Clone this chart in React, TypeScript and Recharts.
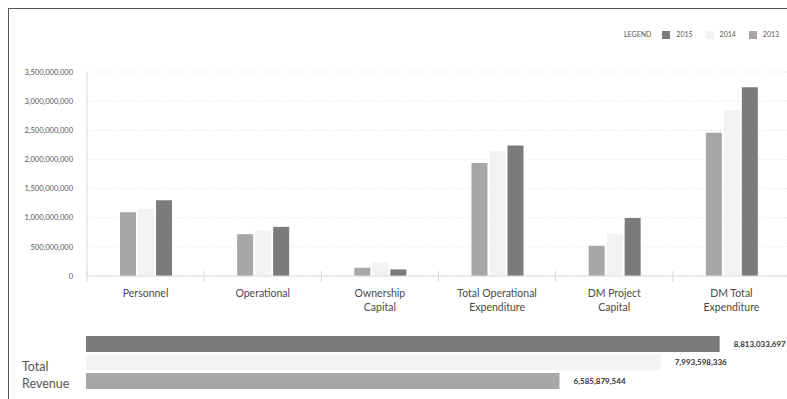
import React from 'react';
import { BarChart, Bar, XAxis, YAxis, CartesianGrid, LabelList } from 'recharts';

// Category labels, broken into the lines they are drawn on
const categoryLines: string[][] = [
  ['Personnel'],
  ['Operational'],
  ['Ownership', 'Capital'],
  ['Total Operational', 'Expenditure'],
  ['DM Project', 'Capital'],
  ['DM Total', 'Expenditure'],
];
const categories = categoryLines.map((l) => l.join(' '));

// Spending per category and year
const spend2013 = [1095000000, 718000000, 142000000, 1938000000, 518000000, 2457000000];
const spend2014 = [1151000000, 787000000, 233000000, 2143000000, 718000000, 2850000000];
const spend2015 = [1300000000, 843000000, 113000000, 2241000000, 997000000, 3238000000];

const yTicks = [0, 500000000, 1000000000, 1500000000, 2000000000, 2500000000, 3000000000, 3500000000];

// Total revenue per year
const revenueYears = ['2015', '2014', '2013'];
const revenueValues = [8813033697, 7993598336, 6585879544];

const legendYears = ['2015', '2014', '2013'];
const yearColors: Record<string, string> = {
  '2015': '#7b7b7b',
  '2014': '#f3f3f3',
  '2013': '#a7a7a7',
};

const FONT = 'Lato, "Open Sans", sans-serif';

const spendData = categories.map((name, i) => ({
  name,
  y2013: spend2013[i],
  y2014: spend2014[i],
  y2015: spend2015[i],
}));

const revenueRow: Record<string, string | number> = { name: 'Total Revenue' };
revenueYears.forEach((y, i) => {
  revenueRow['r' + y] = revenueValues[i];
});
const revenueData = [revenueRow];

const fmt = (v: number) => Number(v).toLocaleString('en-US');

// Layout of the spending chart
const TOP_W = 800;
const TOP_H = 320;
const TOP_MARGIN = { top: 72, right: 10, bottom: 4, left: 0 };
const Y_AXIS_W = 87;
const PLOT_W = TOP_W - TOP_MARGIN.left - TOP_MARGIN.right - Y_AXIS_W;
const BAND = PLOT_W / categories.length;

function CategoryTick(props: any) {
  const { x, y, payload, index } = props;
  const lines = categoryLines[index] ?? [String(payload.value)];
  const bx = x - BAND / 2;
  return (
    <g>
      <line x1={bx} x2={bx} y1={y - 13} y2={y - 2} stroke="#d6d6d6" strokeWidth={1} />
      <text x={x} y={y} textAnchor="middle" fill="#4a4a4a" fontSize={10.5} fontFamily={FONT}>
        {lines.map((l, i) => (
          <tspan key={i} x={x} dy={i === 0 ? 13 : 14}>
            {l}
          </tspan>
        ))}
      </text>
    </g>
  );
}

function RevenueTick(props: any) {
  const { y, payload } = props;
  const words = String(payload.value).split(' ');
  return (
    <text x={22} y={y} fill="#555" fontSize={12.5} fontFamily={FONT}>
      {words.map((w, i) => (
        <tspan key={i} x={22} dy={i === 0 ? 9 : 17}>
          {w}
        </tspan>
      ))}
    </text>
  );
}

function LegendBox() {
  return (
    <div
      style={{
        position: 'absolute',
        left: 624,
        top: 30,
        display: 'flex',
        alignItems: 'center',
        fontFamily: FONT,
        fontSize: 7,
        lineHeight: '9px',
        color: '#555',
        whiteSpace: 'nowrap',
      }}
    >
      <span style={{ marginRight: 11 }}>LEGEND</span>
      {legendYears.map((y, i) => (
        <span
          key={y}
          style={{ display: 'flex', alignItems: 'center', marginRight: i < legendYears.length - 1 ? 13 : 0 }}
        >
          <span
            style={{
              display: 'inline-block',
              width: 8,
              height: 8,
              background: yearColors[y],
              marginRight: 6,
            }}
          />
          <span>{y}</span>
        </span>
      ))}
    </div>
  );
}

export default function App() {
  return (
    <div
      style={{
        position: 'fixed',
        left: 0,
        top: 0,
        width: 787,
        height: 399,
        overflow: 'hidden',
        background: '#fff',
      }}
    >
      <div
        style={{
          position: 'absolute',
          left: 8,
          top: 8,
          width: 1000,
          height: 1000,
          borderTop: '1px solid #555',
          borderLeft: '1px solid #555',
        }}
      />
      <LegendBox />
      <div style={{ position: 'absolute', left: 0, top: 0 }}>
        <BarChart
          width={TOP_W}
          height={TOP_H}
          data={spendData}
          margin={TOP_MARGIN}
          barSize={16}
          barGap={2}
        >
          <CartesianGrid vertical={false} stroke="#dedede" strokeDasharray="1 2" />
          <XAxis
            dataKey="name"
            axisLine={{ stroke: '#dcdcdc' }}
            tickLine={false}
            interval={0}
            height={40}
            tick={<CategoryTick />}
          />
          <YAxis
            width={Y_AXIS_W}
            domain={[0, 3500000000]}
            ticks={yTicks}
            interval={0}
            axisLine={{ stroke: '#dcdcdc' }}
            tickLine={false}
            tickSize={6}
            tickMargin={8}
            tickFormatter={fmt}
            tick={{ fill: '#555', fontSize: 7.5, fontFamily: FONT }}
          />
          <Bar dataKey="y2013" fill={yearColors['2013']} isAnimationActive={false} />
          <Bar dataKey="y2014" fill={yearColors['2014']} isAnimationActive={false} />
          <Bar dataKey="y2015" fill={yearColors['2015']} isAnimationActive={false} />
        </BarChart>
      </div>
      <div style={{ position: 'absolute', left: 0, top: 320 }}>
        <BarChart
          width={805}
          height={84}
          data={revenueData}
          layout="vertical"
          margin={{ top: 0, right: 0, bottom: 0, left: 0 }}
          barSize={16}
          barGap={2.5}
        >
          <XAxis type="number" domain={[0, 10000000000]} hide />
          <YAxis
            type="category"
            dataKey="name"
            width={86}
            axisLine={false}
            tickLine={false}
            tick={<RevenueTick />}
          />
          {revenueYears.map((y) => (
            <Bar key={y} dataKey={'r' + y} fill={yearColors[y]} isAnimationActive={false}>
              <LabelList
                dataKey={'r' + y}
                position="right"
                offset={14}
                formatter={(v: any) => fmt(v)}
                style={{ fill: '#333', fontSize: 8, fontWeight: 700, fontFamily: FONT }}
              />
            </Bar>
          ))}
        </BarChart>
      </div>
    </div>
  );
}
